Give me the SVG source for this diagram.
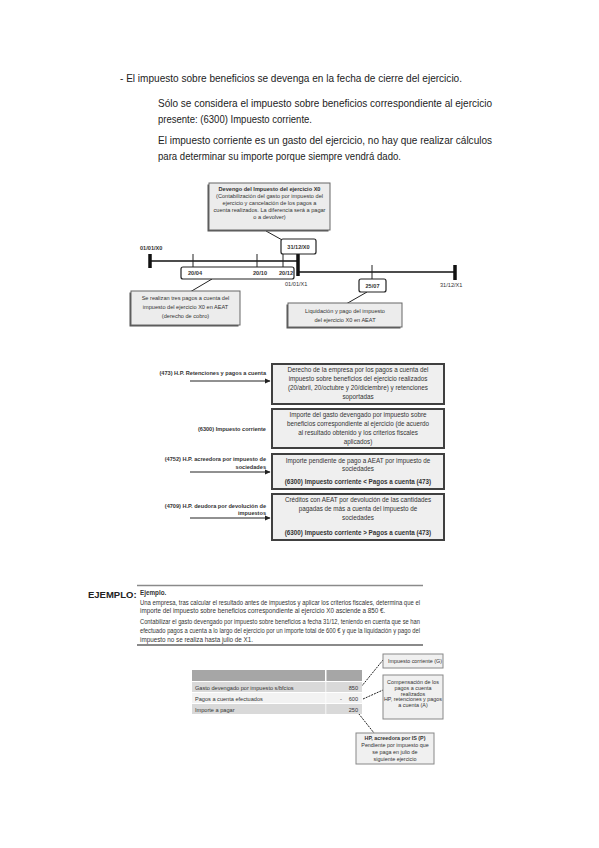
<svg xmlns="http://www.w3.org/2000/svg" width="599" height="848" viewBox="0 0 599 848">
<defs>
<style>
text{font-family:"Liberation Sans","DejaVu Sans",sans-serif;fill:#222}
.t{font-size:10.5px}
.s{font-size:6.3px;fill:#333}
.c{font-size:5.6px;fill:#333}
.x{font-size:5.4px;fill:#333}
.b{font-weight:bold}
.m{text-anchor:middle}
.e{text-anchor:end}
.call{fill:#ececec;stroke:#666;stroke-width:1}
.sh{fill:#555}
.acc{fill:#efefef;stroke:#404040;stroke-width:2}
.rb{fill:#fff;stroke:#222;stroke-width:1.2}
.ln{stroke:#222;stroke-width:1;fill:none}
.tl{stroke:#111;stroke-width:1.6}
.tk{stroke:#111;stroke-width:3.5}
.tc{fill:#f0f0f0;stroke:#888;stroke-width:1}
</style>
<marker id="ar" markerWidth="6" markerHeight="6" refX="5" refY="3" orient="auto" markerUnits="userSpaceOnUse"><path d="M0,0.5 L5.5,3 L0,5.5 Z" fill="#222"/></marker>
</defs>
<rect width="599" height="848" fill="#fff"/>

<g id="intro">
<text class="t" x="120" y="82" textLength="342" lengthAdjust="spacingAndGlyphs">- El impuesto sobre beneficios se devenga en la fecha de cierre del ejercicio.</text>
<text class="t" x="158" y="107" textLength="334" lengthAdjust="spacingAndGlyphs">Sólo se considera el impuesto sobre beneficios correspondiente al ejercicio</text>
<text class="t" x="158" y="123" textLength="154" lengthAdjust="spacingAndGlyphs">presente: (6300) Impuesto corriente.</text>
<text class="t" x="158" y="144" textLength="334" lengthAdjust="spacingAndGlyphs">El impuesto corriente es un gasto del ejercicio, no hay que realizar cálculos</text>
<text class="t" x="158" y="160" textLength="243" lengthAdjust="spacingAndGlyphs">para determinar su importe porque siempre vendrá dado.</text>
</g>

<g id="connectors">
<line class="ln" x1="266" y1="231" x2="284" y2="241"/>
<line class="ln" x1="212" y1="279" x2="190" y2="292"/>
<line class="ln" x1="367" y1="292" x2="346" y2="304"/>
<line class="ln" x1="190" y1="381" x2="270" y2="381" marker-end="url(#ar)"/>
<line class="ln" x1="190" y1="472" x2="270" y2="472" marker-end="url(#ar)"/>
<line class="ln" x1="190" y1="518" x2="270" y2="518" marker-end="url(#ar)"/>
<line class="ln" x1="361" y1="687" x2="383" y2="660" stroke="#444" stroke-dasharray="2,1"/>
<line class="ln" x1="363" y1="699" x2="383" y2="690" stroke="#444" stroke-dasharray="2,1"/>
<line class="ln" x1="355" y1="709" x2="374" y2="733" stroke="#444" stroke-dasharray="2,1"/>
</g>

<g id="timeline">
<line class="tl" x1="150" y1="261" x2="298" y2="261"/>
<line class="tl" x1="298" y1="272" x2="455" y2="272"/>
<line class="tk" x1="150" y1="254" x2="150" y2="268"/>
<line class="ln" x1="193" y1="254" x2="193" y2="268"/>
<line class="ln" x1="257" y1="254" x2="257" y2="268"/>
<line class="ln" x1="283" y1="254" x2="283" y2="268"/>
<line class="tk" x1="298" y1="251" x2="298" y2="276"/>
<line class="ln" x1="372" y1="265" x2="372" y2="279"/>
<line class="tk" x1="455" y1="265" x2="455" y2="280"/>
<text class="c b" x="140" y="250">01/01/X0</text>
<text class="c" x="285" y="286" fill="#335">01/01/X1</text>
<text class="c" x="440" y="287">31/12/X1</text>
</g>

<g id="callout-devengo">
<rect class="sh" x="207.5" y="184.5" width="121" height="47"/>
<rect class="call" x="209" y="183" width="121" height="47"/>
<text class="c m b" x="269.5" y="191">Devengo del Impuesto del ejercicio X0</text>
<text class="c m" x="269.5" y="198">(Contabilización del gasto por impuesto del</text>
<text class="c m" x="269.5" y="205">ejercicio y cancelación de los pagos a</text>
<text class="c m" x="269.5" y="212">cuenta realizados. La diferencia será a pagar</text>
<text class="c m" x="269.5" y="219">o a devolver)</text>
</g>

<g id="box-3112">
<rect class="rb" x="281" y="239" width="35" height="15" rx="2"/>
<text class="c m b" x="298.5" y="249">31/12/X0</text>
</g>

<g id="box-pagos">
<rect class="rb" x="181" y="267" width="113" height="12" rx="2"/>
<text class="c m b" x="195" y="275">20/04</text>
<text class="c m b" x="260" y="275">20/10</text>
<text class="c m b" x="286" y="275">20/12</text>
</g>

<g id="callout-pagos">
<rect class="sh" x="129.5" y="292.5" width="109" height="34"/>
<rect class="call" x="131" y="291" width="109" height="34"/>
<text class="c m" x="185.5" y="300">Se realizan tres pagos a cuenta del</text>
<text class="c m" x="185.5" y="309">impuesto del ejercicio X0 en AEAT</text>
<text class="c m" x="185.5" y="318">(derecho de cobro)</text>
</g>

<g id="box-2507">
<rect class="rb" x="359" y="279" width="27" height="13" rx="2"/>
<text class="c m b" x="372.5" y="288">25/07</text>
</g>

<g id="callout-liquidacion">
<rect class="sh" x="286.5" y="304.5" width="114" height="24"/>
<rect class="call" x="288" y="303" width="114" height="24"/>
<text class="c m" x="345" y="313">Liquidación y pago del impuesto</text>
<text class="c m" x="345" y="322">del ejercicio X0 en AEAT</text>
</g>

<g id="acc-473">
<text class="c b e" x="266" y="375">(473) H.P. Retenciones y pagos a cuenta</text>
<rect class="acc" x="272" y="364" width="172" height="40"/>
<text class="s m" x="358" y="372">Derecho de la empresa por los pagos a cuenta del</text>
<text class="s m" x="358" y="381">impuesto sobre beneficios del ejercicio realizados</text>
<text class="s m" x="358" y="390">(20/abril, 20/octubre y 20/diciembre) y retenciones</text>
<text class="s m" x="358" y="399">soportadas</text>
</g>

<g id="acc-6300">
<text class="c b e" x="266" y="431">(6300) Impuesto corriente</text>
<rect class="acc" x="272" y="409" width="172" height="39"/>
<text class="s m" x="358" y="417">Importe del gasto devengado por impuesto sobre</text>
<text class="s m" x="358" y="426">beneficios correspondiente al ejercicio (de acuerdo</text>
<text class="s m" x="358" y="435">al resultado obtenido y los criterios fiscales</text>
<text class="s m" x="358" y="444">aplicados)</text>
</g>

<g id="acc-4752">
<text class="c b e" x="266" y="461">(4752) H.P. acreedora por impuesto de</text>
<text class="c b e" x="266" y="468.5">sociedades</text>
<rect class="acc" x="272" y="454" width="172" height="35"/>
<text class="s m" x="358" y="463">Importe pendiente de pago a AEAT por impuesto de</text>
<text class="s m" x="358" y="471">sociedades</text>
<text class="s m b" x="358" y="484">(6300) Impuesto corriente &lt; Pagos a cuenta (473)</text>
</g>

<g id="acc-4709">
<text class="c b e" x="266" y="508">(4709) H.P. deudora por devolución de</text>
<text class="c b e" x="266" y="515">impuestos</text>
<rect class="acc" x="272" y="494" width="172" height="46"/>
<text class="s m" x="358" y="502">Créditos con AEAT por devolución de las cantidades</text>
<text class="s m" x="358" y="511">pagadas de más a cuenta del impuesto de</text>
<text class="s m" x="358" y="520">sociedades</text>
<text class="s m b" x="358" y="535">(6300) Impuesto corriente &gt; Pagos a cuenta (473)</text>
</g>

<g id="ejemplo-title">
<text class="b" x="88" y="598" font-size="9.5">EJEMPLO:</text>
</g>

<g id="ejemplo-box">
<line x1="137" y1="585.5" x2="423" y2="585.5" stroke="#8a8a8a" stroke-width="1.5"/>
<line x1="137" y1="645" x2="423" y2="645" stroke="#8a8a8a" stroke-width="2"/>
<text class="s b" x="140" y="595" fill="#111">Ejemplo.</text>
<text class="s" x="140" y="605" textLength="280" lengthAdjust="spacingAndGlyphs" fill="#1a1a2a">Una empresa, tras calcular el resultado antes de impuestos y aplicar los criterios fiscales, determina que el</text>
<text class="s" x="140" y="613" fill="#1a1a2a">importe del impuesto sobre beneficios correspondiente al ejercicio X0 asciende a 850 €.</text>
<text class="s" x="140" y="624" textLength="280" lengthAdjust="spacingAndGlyphs" fill="#1a1a2a">Contabilizar el gasto devengado por impuesto sobre beneficios a fecha 31/12, teniendo en cuenta que se han</text>
<text class="s" x="140" y="633" textLength="280" lengthAdjust="spacingAndGlyphs" fill="#1a1a2a">efectuado pagos a cuenta a lo largo del ejercicio por un importe total de 600 € y que la liquidación y pago del</text>
<text class="s" x="140" y="642" fill="#1a1a2a">impuesto no se realiza hasta julio de X1.</text>
</g>

<g id="tabla">
<rect x="192" y="670" width="133" height="11" fill="#a6a6a6"/>
<rect x="326.5" y="670" width="35.5" height="11" fill="#a6a6a6"/>
<rect x="192" y="682" width="170" height="10" fill="#d9d9d9"/>
<rect x="192" y="693" width="170" height="10" fill="#f2f2f2"/>
<rect x="192" y="704" width="170" height="10" fill="#d9d9d9"/>
<line x1="325.8" y1="682" x2="325.8" y2="714" stroke="#fff" stroke-width="0.8"/>
<text class="c" x="195" y="689.5">Gasto devengado por impuesto s/bfcios</text>
<text class="c e" x="358" y="689.5">850</text>
<text class="c" x="195" y="700.5">Pagos a cuenta efectuados</text>
<text class="c" x="340" y="700.5">-</text>
<text class="c e" x="358" y="700.5">600</text>
<text class="c" x="195" y="711.5">Importe a pagar</text>
<text class="c e" x="358" y="711.5">250</text>
</g>

<g id="callout-g">
<rect class="tc" x="383" y="654" width="60" height="14"/>
<text class="x" x="388" y="663">Impuesto corriente (G)</text>
</g>

<g id="callout-a">
<rect class="tc" x="383" y="675" width="60" height="44"/>
<text class="x m" x="413" y="684">Compensación de los</text>
<text class="x m" x="413" y="690">pagos a cuenta</text>
<text class="x m" x="413" y="695.5">realizados</text>
<text class="x m" x="413" y="701">HP, retenciones y pagos</text>
<text class="x m" x="413" y="707">a cuenta (A)</text>
</g>

<g id="callout-p">
<rect class="tc" x="356" y="733" width="78" height="31"/>
<text class="x m b" x="395" y="740">HP, acreedora por IS (P)</text>
<text class="x m" x="395" y="747">Pendiente por impuesto que</text>
<text class="x m" x="395" y="754">se paga en julio de</text>
<text class="x m" x="395" y="761">siguiente ejercicio</text>
</g>
</svg>
